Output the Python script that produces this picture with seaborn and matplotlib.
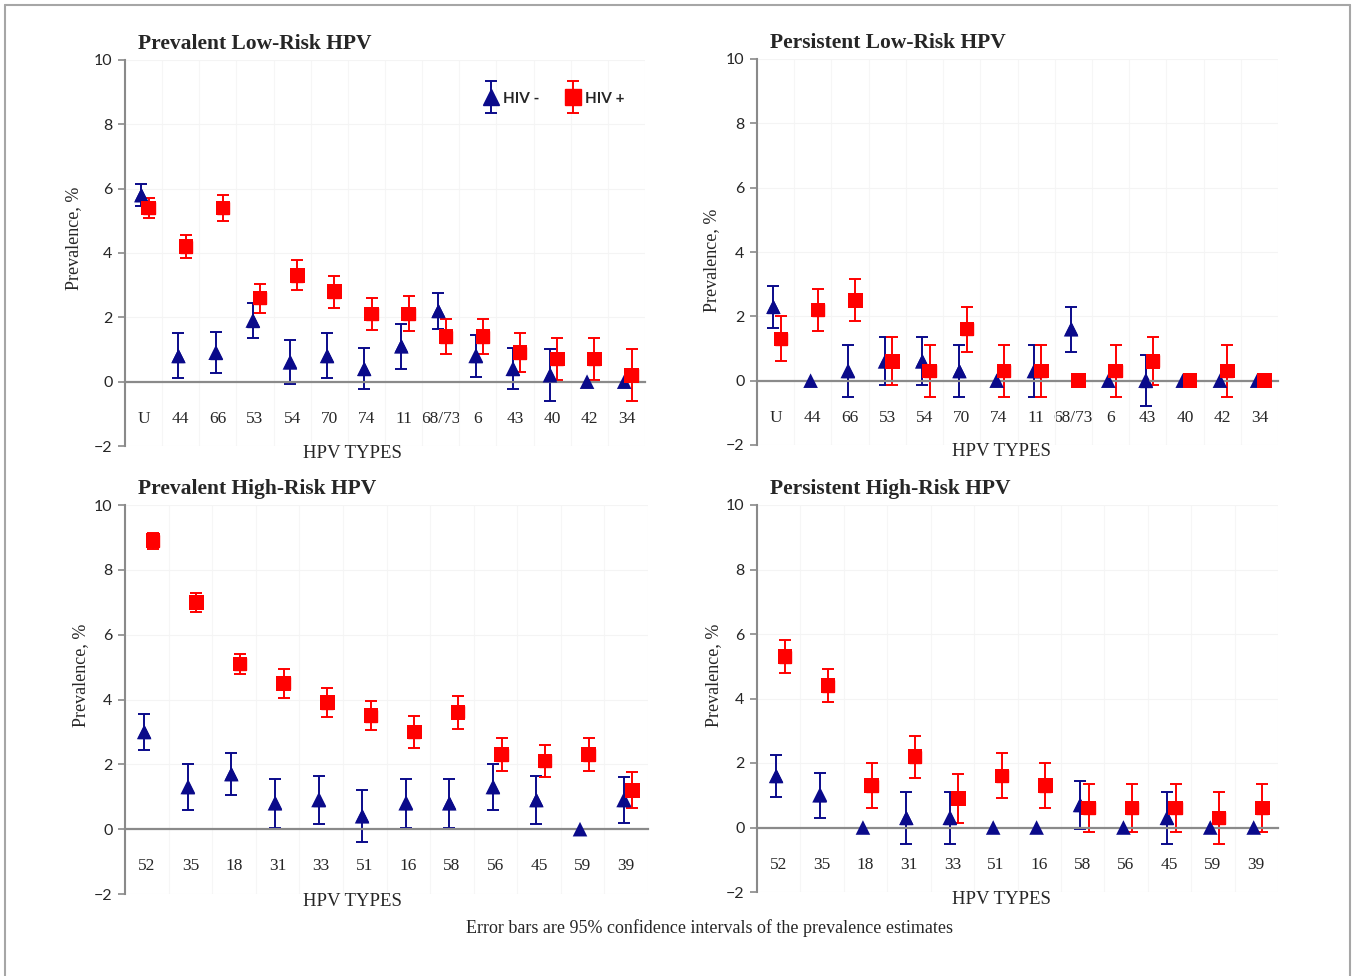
import numpy as np
import pandas as pd
import matplotlib
matplotlib.use("Agg")
import matplotlib.pyplot as plt
import seaborn as sns
from matplotlib.lines import Line2D
from matplotlib.legend_handler import HandlerErrorbar
from matplotlib.container import ErrorbarContainer

N = np.nan

# ---------------- data ----------------
low_types = ["U", "44", "66", "53", "54", "70", "74", "11", "68/73", "6", "43", "40", "42", "34"]
high_types = ["52", "35", "18", "31", "33", "51", "16", "58", "56", "45", "59", "39"]

# Prevalent Low-Risk HPV
prev_low_neg = [5.8, 0.8, 0.9, 1.9, 0.6, 0.8, 0.4, 1.1, 2.2, 0.8, 0.4, 0.2, 0.0, 0.0]
prev_low_neg_lo = [5.45, 0.1, 0.28, 1.37, -0.07, 0.1, -0.24, 0.4, 1.65, 0.16, -0.24, -0.6, N, N]
prev_low_neg_hi = [6.15, 1.5, 1.55, 2.46, 1.3, 1.5, 1.06, 1.8, 2.76, 1.46, 1.06, 1.0, N, N]
prev_low_pos = [5.4, 4.2, 5.4, 2.6, 3.3, 2.8, 2.1, 2.1, 1.4, 1.4, 0.9, 0.7, 0.7, 0.2]
prev_low_pos_lo = [5.1, 3.85, 5.0, 2.14, 2.86, 2.3, 1.6, 1.56, 0.86, 0.86, 0.3, 0.05, 0.05, -0.6]
prev_low_pos_hi = [5.7, 4.55, 5.8, 3.05, 3.77, 3.3, 2.6, 2.66, 1.96, 1.96, 1.5, 1.36, 1.36, 1.0]

# Persistent Low-Risk HPV
pers_low_neg = [2.3, 0.0, 0.3, 0.6, 0.6, 0.3, 0.0, 0.3, 1.6, 0.0, 0.0, 0.0, 0.0, 0.0]
pers_low_neg_lo = [1.65, N, -0.5, -0.15, -0.15, -0.5, N, -0.5, 0.9, N, -0.8, N, N, N]
pers_low_neg_hi = [2.95, N, 1.1, 1.35, 1.35, 1.1, N, 1.1, 2.3, N, 0.8, N, N, N]
pers_low_pos = [1.3, 2.2, 2.5, 0.6, 0.3, 1.6, 0.3, 0.3, 0.0, 0.3, 0.6, 0.0, 0.3, 0.0]
pers_low_pos_lo = [0.6, 1.55, 1.85, -0.15, -0.5, 0.9, -0.5, -0.5, N, -0.5, -0.15, N, -0.5, N]
pers_low_pos_hi = [2.0, 2.85, 3.15, 1.35, 1.1, 2.3, 1.1, 1.1, N, 1.1, 1.35, N, 1.1, N]

# Prevalent High-Risk HPV
prev_high_neg = [3.0, 1.3, 1.7, 0.8, 0.9, 0.4, 0.8, 0.8, 1.3, 0.9, 0.0, 0.9]
prev_high_neg_lo = [2.45, 0.6, 1.05, 0.05, 0.15, -0.4, 0.05, 0.05, 0.6, 0.15, N, 0.2]
prev_high_neg_hi = [3.55, 2.0, 2.35, 1.55, 1.65, 1.2, 1.55, 1.55, 2.0, 1.65, N, 1.6]
prev_high_pos = [8.9, 7.0, 5.1, 4.5, 3.9, 3.5, 3.0, 3.6, 2.3, 2.1, 2.3, 1.2]
prev_high_pos_lo = [8.65, 6.7, 4.8, 4.05, 3.45, 3.05, 2.5, 3.1, 1.8, 1.6, 1.8, 0.65]
prev_high_pos_hi = [9.15, 7.3, 5.4, 4.95, 4.35, 3.95, 3.5, 4.1, 2.8, 2.6, 2.8, 1.75]

# Persistent High-Risk HPV
pers_high_neg = [1.6, 1.0, 0.0, 0.3, 0.3, 0.0, 0.0, 0.7, 0.0, 0.3, 0.0, 0.0]
pers_high_neg_lo = [0.95, 0.3, N, -0.5, -0.5, N, N, -0.05, N, -0.5, N, N]
pers_high_neg_hi = [2.25, 1.7, N, 1.1, 1.1, N, N, 1.45, N, 1.1, N, N]
pers_high_pos = [5.3, 4.4, 1.3, 2.2, 0.9, 1.6, 1.3, 0.6, 0.6, 0.6, 0.3, 0.6]
pers_high_pos_lo = [4.8, 3.9, 0.6, 1.55, 0.15, 0.9, 0.6, -0.15, -0.15, -0.15, -0.5, -0.15]
pers_high_pos_hi = [5.8, 4.9, 2.0, 2.85, 1.65, 2.3, 2.0, 1.35, 1.35, 1.35, 1.1, 1.35]

titles = ["Prevalent Low-Risk HPV", "Persistent Low-Risk HPV",
          "Prevalent High-Risk HPV", "Persistent High-Risk HPV"]
group_names = ["HIV -", "HIV +"]
footnote = "Error bars are 95% confidence intervals of the prevalence estimates"

panels = [
    (titles[0], low_types, (prev_low_neg, prev_low_neg_lo, prev_low_neg_hi),
     (prev_low_pos, prev_low_pos_lo, prev_low_pos_hi)),
    (titles[1], low_types, (pers_low_neg, pers_low_neg_lo, pers_low_neg_hi),
     (pers_low_pos, pers_low_pos_lo, pers_low_pos_hi)),
    (titles[2], high_types, (prev_high_neg, prev_high_neg_lo, prev_high_neg_hi),
     (prev_high_pos, prev_high_pos_lo, prev_high_pos_hi)),
    (titles[3], high_types, (pers_high_neg, pers_high_neg_lo, pers_high_neg_hi),
     (pers_high_pos, pers_high_pos_lo, pers_high_pos_hi)),
]

# ---------------- style ----------------
NAVY = "#0a0a8a"
RED = "#ff0000"
GRAY = "#8a8a8a"
SERIF = ["Liberation Serif", "DejaVu Serif"]
SANS = ["Lato", "DejaVu Sans"]

sns.set_theme(style="white")
plt.rcParams["font.family"] = SERIF

W, H = 1352, 976
fig = plt.figure(figsize=(W / 100, H / 100), dpi=100)

# axes boxes in pixels: left, top, right, bottom
boxes = [(125, 60, 645, 446), (757, 59, 1278, 445),
         (125, 505, 648, 894), (757, 505, 1278, 892)]
xlabel_pos = [0.437, 0.47, 0.434, 0.47]
ylabel_pos = [(-0.083, 0.539), (-0.071, 0.479), (-0.069, 0.563), (-0.067, 0.56)]

offsets = {"HIV -": -0.06, "HIV +": 0.14}
colors = {"HIV -": NAVY, "HIV +": RED}
markers = {"HIV -": "^", "HIV +": "s"}
SCATTER_S = 110   # scatter marker area (pt^2)
EB_MS = 8         # errorbar marker size (hidden under scatter; shown in legend)

for k, (title, types, neg, pos) in enumerate(panels):
    l, t, r, b = boxes[k]
    ax = fig.add_axes([l / W, 1 - b / H, (r - l) / W, (b - t) / H])
    n = len(types)
    idx = np.arange(n)

    rows = []
    for g, (vals, lo, hi) in zip(group_names, (neg, pos)):
        for i in range(n):
            rows.append({"type": types[i], "xpos": idx[i] + offsets[g], "group": g,
                         "value": vals[i], "lo": lo[i], "hi": hi[i]})
    df = pd.DataFrame(rows)

    # error bars
    containers = {}
    for g in group_names:
        d = df[(df.group == g) & df.lo.notna()]
        containers[g] = ax.errorbar(d.xpos, d.value, yerr=[d.value - d.lo, d.hi - d.value],
                                    fmt=markers[g], color=colors[g], ecolor=colors[g],
                                    markersize=EB_MS, elinewidth=1.4,
                                    capsize=4.5, capthick=1.4, zorder=2)

    # markers
    sns.scatterplot(data=df, x="xpos", y="value", hue="group", style="group",
                    palette=colors, markers=markers, s=SCATTER_S, linewidth=0,
                    legend=False, ax=ax, zorder=3)

    ax.set_xlim(-0.5, n - 0.5)
    ax.set_ylim(-2, 10)
    ax.set_yticks(np.arange(-2, 11, 2))
    ax.set_xticks(idx)
    ax.set_xticklabels(types)
    ax.set_xlabel("")
    ax.set_ylabel("Prevalence, %", fontsize=13)
    ax.yaxis.set_label_coords(*ylabel_pos[k])

    # gridlines (very faint)
    ax.set_xticks(np.arange(-0.5, n, 1.0), minor=True)
    ax.grid(True, which="minor", axis="x", color="#f6f6f6", lw=0.8, zorder=0)
    ax.grid(True, which="major", axis="y", color="#f4f4f4", lw=0.8, zorder=0)
    ax.grid(False, which="major", axis="x")

    for s in ["top", "right"]:
        ax.spines[s].set_visible(False)
    ax.spines["left"].set_color(GRAY)
    ax.spines["left"].set_linewidth(1.5)
    ax.spines["bottom"].set_position(("data", 0))
    ax.spines["bottom"].set_color(GRAY)
    ax.spines["bottom"].set_linewidth(1.6)

    ax.tick_params(axis="y", which="major", left=True, length=5, width=1.2,
                   color=GRAY, labelsize=11.5, pad=4)
    for lab in ax.get_yticklabels():
        lab.set_family(SANS)
    ax.tick_params(axis="x", which="both", bottom=False, length=0, pad=21, labelsize=12.5)

    ax.text(13 / (r - l), 1 + 11 / (b - t), title, transform=ax.transAxes,
            fontsize=15.5, fontweight="bold", ha="left", va="baseline")
    ax.text(xlabel_pos[k], -7 / (b - t), "HPV TYPES", transform=ax.transAxes,
            fontsize=13.5, ha="center", va="center")

    if k == 0:
        hnd = [containers[g] for g in group_names]
        ax.legend(hnd, group_names, loc="center", bbox_to_anchor=(0.823, 0.9),
                  ncol=2, frameon=False, numpoints=1, handlelength=1.2,
                  handletextpad=0.2, columnspacing=1.6, markerscale=1.4,
                  prop={"family": SANS, "weight": "bold", "size": 11},
                  handler_map={ErrorbarContainer: HandlerErrorbar(yerr_size=1.05)})

fig.text(710 / W, 1 - 928 / H, footnote, ha="center", va="center", fontsize=13)

# outer frame (left, top, right)
frame_kw = dict(color="#a6a6a6", lw=1.5, transform=fig.transFigure)
fig.add_artist(Line2D([4.5 / W, 4.5 / W], [0, 1 - 5 / H], **frame_kw))
fig.add_artist(Line2D([4.5 / W, 1349.5 / W], [1 - 5 / H, 1 - 5 / H], **frame_kw))
fig.add_artist(Line2D([1349.5 / W, 1349.5 / W], [0, 1 - 5 / H], **frame_kw))

fig.savefig("out.png", dpi=100)
